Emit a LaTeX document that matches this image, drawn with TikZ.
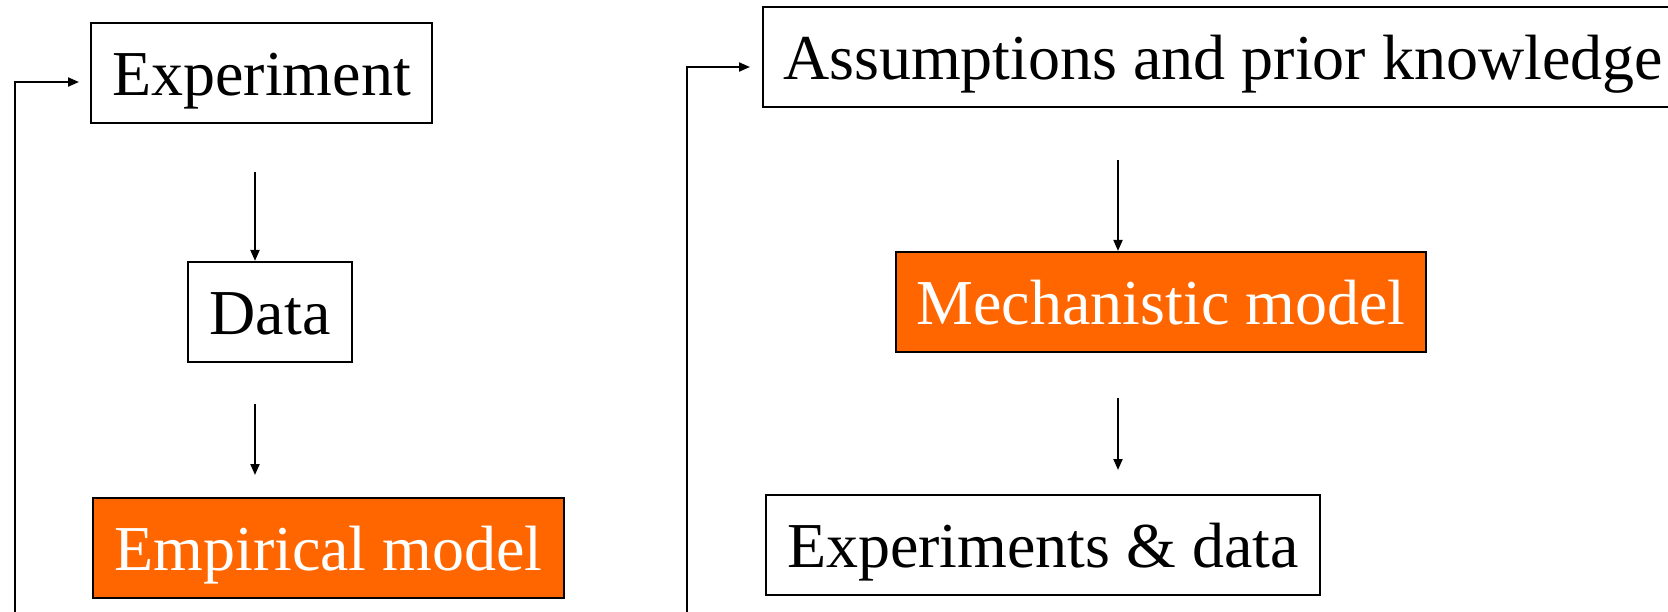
\documentclass[tikz,border=0pt]{standalone}
\usepackage{fontspec}
\setmainfont{Liberation Serif}
\newfontfamily\tnrfont{Liberation Serif}
\usetikzlibrary{arrows.meta,calc}
\definecolor{orangebox}{HTML}{FF6600}
\tikzset{
  box/.style={draw=black, line width=2.2pt, rectangle, inner sep=0pt,
    minimum height=100pt, font=\tnrfont\fontsize{64}{77}\selectfont,
    text height=45pt, text depth=0pt},
  hotbox/.style={box, fill=orangebox, text=white},
  arr/.style={line width=2pt, -{Triangle[length=11pt,width=9pt]}},
  loopline/.style={line width=2pt, -{Triangle[length=11pt,width=9pt]}}
}
\begin{document}
\begin{tikzpicture}[x=1pt,y=-1pt]
\useasboundingbox (0,0) rectangle (1668,611);
\clip (0,0) rectangle (1668,611);
\fill[white] (0,0) rectangle (1668,611);
% left column
\node[box, minimum width=341pt] (exp) at (261.5,73) {Experiment};
\node[box, minimum width=164pt] (data) at (270,312) {Data};
\node[hotbox, minimum width=471pt] (emp) at (328.5,548) {Empirical model};
% right column
\node[box, minimum width=920pt] (ass) at (1223,57) {Assumptions and prior knowledge};
\node[hotbox, minimum width=529.5pt] (mech) at (1161,302) {Mechanistic model};
\node[box, minimum width=553.5pt] (expd) at (1043,545) {Experiments \& data};
% coordinates for arrow ends
\coordinate (a1) at (255,172);
\coordinate (a2) at (255,404);
\coordinate (a2e) at (255,475);
\coordinate (b1) at (1118,160);
\coordinate (b2) at (1118,398);
\coordinate (b2e) at (1118,470);
\coordinate (l0) at (15,630);
\coordinate (l1) at (15,82);
\coordinate (l2) at (79,82);
\coordinate (r0) at (687,630);
\coordinate (r1) at (687,67);
\coordinate (r2) at (750,67);
% arrows
\draw[arr] (a1) -- (a1 |- data.north);
\draw[arr] (a2) -- (a2e);
\draw[arr] (b1) -- (b1 |- mech.north);
\draw[arr] (b2) -- (b2e);
\draw[loopline] (l0) -- (l1) -- (l2);
\draw[loopline] (r0) -- (r1) -- (r2);
\end{tikzpicture}
\end{document}
